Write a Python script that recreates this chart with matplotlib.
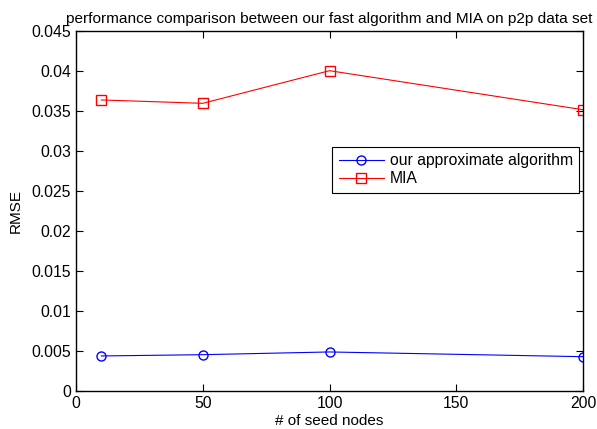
import matplotlib
matplotlib.use("Agg")
import matplotlib.pyplot as plt

# data
seeds = [10, 50, 100, 200]
approx_rmse = [0.00438, 0.00454, 0.00488, 0.00429]
mia_rmse = [0.03638, 0.03596, 0.04004, 0.03516]

plt.rcParams['font.family'] = ['Liberation Sans', 'DejaVu Sans']
plt.rcParams['font.size'] = 11

fig = plt.figure(figsize=(5.97, 4.29), dpi=100)
ax = fig.add_axes([76 / 597, 1 - 391 / 429, (583 - 76) / 597, (391 - 31) / 429])

ax.plot(seeds, approx_rmse, color='b', marker='o', markersize=6.5, markerfacecolor='none',
        linewidth=0.8, label='our approximate algorithm')
ax.plot(seeds, mia_rmse, color='r', marker='s', markersize=6.5, markerfacecolor='none',
        linewidth=0.8, label='MIA')

ax.set_xlim(0, 200)
ax.set_ylim(0, 0.045)
ax.set_xticks([0, 50, 100, 150, 200])
ax.set_yticks([0, 0.005, 0.01, 0.015, 0.02, 0.025, 0.03, 0.035, 0.04, 0.045])
ax.set_yticklabels(['0', '0.005', '0.01', '0.015', '0.02', '0.025', '0.03', '0.035', '0.04', '0.045'])
ax.tick_params(direction='in', top=True, right=True, length=5, labelsize=11.3)
for s in ax.spines.values():
    s.set_linewidth(1.0)

ax.set_xlabel('# of seed nodes', labelpad=2)
ax.set_ylabel('RMSE', labelpad=6)
ax.set_title('performance comparison between our fast algorithm and MIA on p2p data set', fontsize=11.1, pad=6)

leg = ax.legend(loc='upper right', bbox_to_anchor=(579 / 597, 1 - 147 / 429), bbox_transform=fig.transFigure,
                fancybox=False, framealpha=1, edgecolor='k', fontsize=11.3,
                borderpad=0.4, handlelength=2.9, labelspacing=0.2, handletextpad=0.35, borderaxespad=0)
leg.get_frame().set_linewidth(0.8)

fig.savefig('out.png', dpi=100)
